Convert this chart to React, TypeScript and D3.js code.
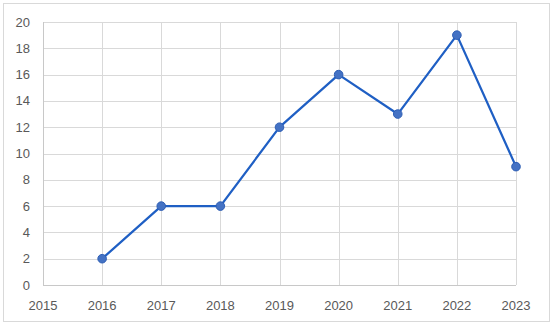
import React, { useEffect } from "react";
import * as d3 from "d3";

const years = [2016, 2017, 2018, 2019, 2020, 2021, 2022, 2023];
const values = [2, 6, 6, 12, 16, 13, 19, 9];
const xTicks = [2015, 2016, 2017, 2018, 2019, 2020, 2021, 2022, 2023];
const yTicks = [0, 2, 4, 6, 8, 10, 12, 14, 16, 18, 20];

const W = 554;
const H = 332;
const left = 43;
const right = 516;
const top = 22;
const bottom = 285;

export default function App() {
  useEffect(() => {
    document.body.style.margin = "0";
  }, []);
  const x = d3.scaleLinear().domain([2015, 2023]).range([left, right]);
  const y = d3.scaleLinear().domain([0, 20]).range([bottom, top]);
  const line = d3
    .line<number>()
    .x((_, i) => x(years[i]))
    .y((d) => y(d));
  const font = "'Liberation Sans', Arial, sans-serif";
  return (
    <svg width={W} height={H} style={{ display: "block" }}>
      <rect x={0} y={0} width={W} height={H} fill="#fff" />
      <rect x={3.5} y={3.5} width={546} height={318} fill="#fff" stroke="#d9d9d9" strokeWidth={1} />
      {yTicks.map((t) => (
        <line key={"h" + t} x1={left} x2={right} y1={Math.round(y(t)) + 0.5} y2={Math.round(y(t)) + 0.5} stroke="#d9d9d9" strokeWidth={1} />
      ))}
      {xTicks.map((t) => (
        <line key={"v" + t} x1={Math.round(x(t)) + 0.5} x2={Math.round(x(t)) + 0.5} y1={top} y2={bottom} stroke="#d9d9d9" strokeWidth={1} />
      ))}
      <line x1={Math.round(x(2015)) + 0.5} x2={Math.round(x(2015)) + 0.5} y1={top} y2={bottom} stroke="#c8c8c8" strokeWidth={1} />
      <line x1={left} x2={right} y1={Math.round(y(0)) + 0.5} y2={Math.round(y(0)) + 0.5} stroke="#c8c8c8" strokeWidth={1} />
      {yTicks.map((t) => (
        <text key={"yl" + t} x={30} y={y(t)} dy="0.35em" textAnchor="end" fontSize={13} fill="#595959" fontFamily={font}>
          {t}
        </text>
      ))}
      {xTicks.map((t) => (
        <text key={"xl" + t} x={x(t)} y={305} dy="0.35em" textAnchor="middle" fontSize={13} fill="#595959" fontFamily={font}>
          {t}
        </text>
      ))}
      <path d={line(values) || ""} fill="none" stroke="#1f5fc4" strokeWidth={2.25} strokeLinejoin="round" />
      {values.map((v, i) => (
        <circle key={"c" + i} cx={x(years[i])} cy={y(v)} r={4.3} fill="#4472c4" stroke="#2f5fb5" strokeWidth={1} />
      ))}
    </svg>
  );
}
